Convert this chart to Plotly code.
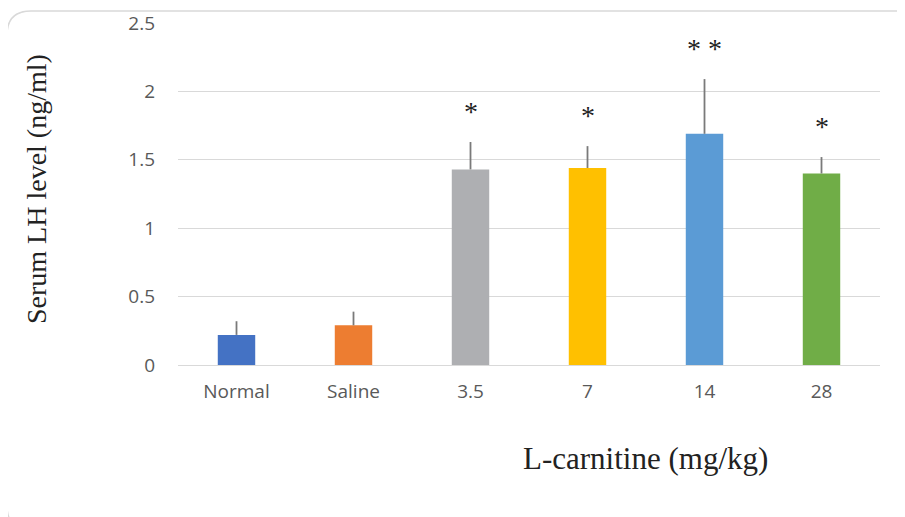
import plotly.graph_objects as go

categories = ["Normal", "Saline", "3.5", "7", "14", "28"]
lh_level = [0.22, 0.29, 1.43, 1.44, 1.69, 1.40]
lh_error = [0.10, 0.10, 0.20, 0.16, 0.40, 0.12]
significance = ["", "", "*", "*", "* *", "*"]
bar_colors = ["#4472C4", "#ED7D31", "#AEAFB2", "#FFC000", "#5B9BD5", "#70AD47"]
y_ticks = [0, 0.5, 1, 1.5, 2, 2.5]
y_tick_text = ["0", "0.5", "1", "1.5", "2", "2.5"]

OFF = 8  # page body margin
W, H = 905 - OFF, 517 - OFF
# plot area in screenshot coordinates
PX0, PX1, PY0, PY1 = 178, 880, 23, 365
L, R = PX0 - OFF, W - (PX1 - OFF)
T, B = PY0 - OFF, H - (PY1 - OFF)
pw, ph = PX1 - PX0, PY1 - PY0

def px(xp):
    return (xp - PX0) / pw
def py(yp):
    return (PY1 - yp) / ph

fig = go.Figure()
fig.add_trace(go.Bar(
    x=list(range(len(categories))), y=lh_level,
    marker=dict(color=bar_colors, line=dict(width=0)),
    error_y=dict(type="data", symmetric=False, array=lh_error,
                 arrayminus=[0] * len(lh_error),
                 color="#7A7A7A", thickness=1.8, width=0),
    width=0.32,
))

for i, (v, e, s) in enumerate(zip(lh_level, lh_error, significance)):
    if s:
        fig.add_annotation(x=i, y=v + e, text=s, showarrow=False,
                           yshift=31, yanchor="middle",
                           font=dict(family="Liberation Serif", size=28, color="#222222"))

fig.add_annotation(xref="paper", yref="paper", x=px(645), y=py(458),
                   text="L-carnitine (mg/kg)", showarrow=False,
                   xanchor="center", yanchor="middle",
                   font=dict(family="Liberation Serif", size=31, color="#222222"))

fig.add_annotation(xref="paper", yref="paper", x=px(36), y=py(189),
                   text="Serum LH level (ng/ml)", showarrow=False, textangle=-90,
                   xanchor="center", yanchor="middle",
                   font=dict(family="Liberation Serif", size=28, color="#222222"))

# rounded border (bottom and right edges fall outside the picture)
x0, y0, x1, y1, r = 7, 11, 930, 530, 24
path = (f"M {px(x1)},{py(y1)} L {px(x0 + r)},{py(y1)} "
        f"Q {px(x0)},{py(y1)} {px(x0)},{py(y1 - r)} "
        f"L {px(x0)},{py(y0 + r)} "
        f"Q {px(x0)},{py(y0)} {px(x0 + r)},{py(y0)} L {px(x1)},{py(y0)}")
fig.add_shape(type="path", xref="paper", yref="paper", path=path,
              line=dict(color="#D9D9D9", width=1.5), layer="below")

fig.update_layout(
    width=W, height=H,
    margin=dict(l=L, r=R, t=T, b=B, pad=0, autoexpand=False),
    paper_bgcolor="white", plot_bgcolor="white",
    showlegend=False,
    xaxis=dict(showgrid=False, showline=False, ticks="", automargin=False,
               tickvals=list(range(len(categories))), ticktext=categories,
               tickfont=dict(family="Open Sans", size=19, color="#595959"),
               ticklabelstandoff=13, range=[-0.5, len(categories) - 0.5]),
    yaxis=dict(range=[0, 2.5], tickvals=y_ticks, ticktext=y_tick_text, automargin=False,
               showgrid=True, gridcolor="#D9D9D9", gridwidth=1,
               zeroline=True, zerolinecolor="#D9D9D9", zerolinewidth=1,
               showline=False, ticks="",
               tickfont=dict(family="Open Sans", size=19, color="#595959"),
               ticklabelstandoff=22),
)

fig.write_html("out.html")
